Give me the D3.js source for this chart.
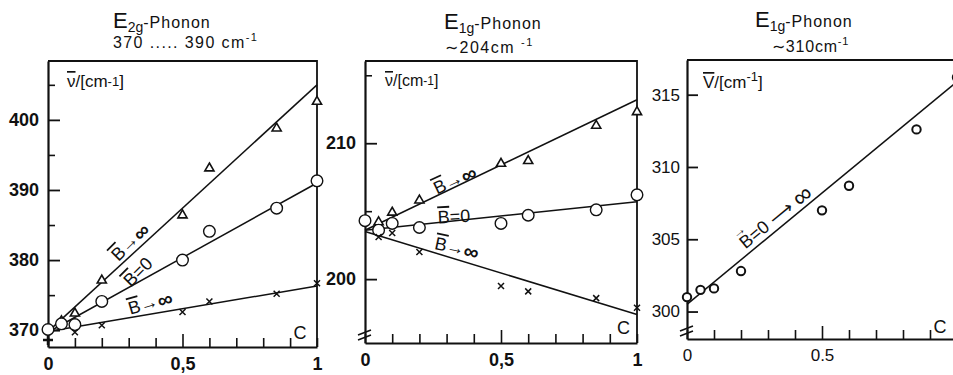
<!DOCTYPE html>
<html>
<head>
<meta charset="utf-8">
<script src="https://cdn.jsdelivr.net/npm/d3@7"></script>
<style>
  body { margin: 0; background: #fff; }
  svg { display: block; }
  text { font-family: "Liberation Sans", Arial, sans-serif; fill: #111; }
</style>
</head>
<body>
<svg id="chart" width="953" height="375"></svg>
<script>
// concentration axis (c), shared by the three panels
const cTicks = [0, 0.1, 0.2, 0.3, 0.4, 0.5, 0.6, 0.7, 0.8, 0.9, 1];
const cLabelValues = [0, 0.5, 1];
const cLabelsComma = ["0", "0,5", "1"];
const cLabelsDot = ["0", "0.5"];   // the "1" falls outside the picture
const fitC = [0, 1];

// E2g phonon, 370 ... 390 cm-1
const e2gMajor = [370, 380, 390, 400];
const e2gMinor = [375, 385, 395, 405];
const e2gTriC = [0.05, 0.1, 0.2, 0.5, 0.6, 0.85, 1];
const e2gTri = [371.3, 372.4, 377.1, 386.4, 393.1, 398.8, 402.6];
const e2gCircC = [0, 0.05, 0.1, 0.2, 0.5, 0.6, 0.85, 1];
const e2gCirc = [370.1, 370.9, 370.8, 374.1, 380.0, 384.1, 387.4, 391.3];
const e2gCrossC = [0.1, 0.2, 0.5, 0.6, 0.85, 1];
const e2gCross = [369.7, 370.7, 372.6, 374.1, 375.2, 376.7];
const e2gPlusC = [0];
const e2gPlus = [368.6];
const e2gFitTri = [369.8, 405.0];
const e2gFitCirc = [369.7, 391.0];
const e2gFitCross = [369.8, 376.3];

// E1g phonon, ~204 cm-1
const e1aMajor = [200, 210];
const e1aMinor = [205, 215];
const e1aTriC = [0.05, 0.1, 0.2, 0.5, 0.6, 0.85, 1];
const e1aTri = [204.2, 204.9, 205.8, 208.5, 208.7, 211.3, 212.3];
const e1aCircC = [0, 0.05, 0.1, 0.2, 0.5, 0.6, 0.85, 1];
const e1aCirc = [204.3, 203.6, 204.1, 203.8, 204.1, 204.7, 205.1, 206.2];
const e1aCrossC = [0.05, 0.1, 0.2, 0.5, 0.6, 0.85, 1];
const e1aCross = [203.1, 203.4, 202.0, 199.5, 199.1, 198.6, 197.9];
const e1aFitTri = [203.6, 213.2];
const e1aFitCirc = [203.6, 205.7];
const e1aFitCross = [203.5, 197.4];

// E1g phonon, ~310 cm-1
const e1bMajor = [300, 305, 310, 315];
const e1bCircC = [0, 0.05, 0.1, 0.2, 0.5, 0.6, 0.85, 1];
const e1bCirc = [301.0, 301.5, 301.6, 302.8, 307.0, 308.7, 312.6, 316.2];
const e1bFit = [300.5, 315.9];

const ink = "#111";
const svg = d3.select("#chart");

const zip = (cs, vs) => cs.map((c, i) => [c, vs[i]]);

function bLabel(g, x, y, l) {
  const t = g.append("text")
    .attr("transform", "translate(" + x(l.pos[0]) + "," + y(l.pos[1]) + ") rotate(" + l.pos[2] + ")")
    .attr("text-anchor", "middle")
    .attr("dominant-baseline", "central")
    .style("font-size", l.size + "px");
  if (l.vec) {
    // vector arrow drawn above the B
    t.append("tspan").attr("dy", -13).style("font-size", "14px").text("→");
    t.append("tspan").attr("dx", -13).attr("dy", 13).text("B");
  } else {
    t.append("tspan").style("text-decoration", "overline").text("B");
  }
  l.text.forEach(part => {
    t.append("tspan").style("font-size", part.s + "px").style("font-weight", part.w || "normal").text(part.t);
  });
}

function drawPanel(p) {
  const g = svg.append("g");
  const x = d3.scaleLinear().domain([0, 1]).range([p.left, p.right]);
  const y = d3.scaleLinear().domain(p.yDomain).range([p.bottom, p.top]);

  // frame (top + right)
  g.append("path")
    .attr("d", "M" + p.left + "," + p.top + "H" + p.right + "V" + p.bottom)
    .attr("fill", "none").attr("stroke", ink).attr("stroke-width", 1.8);

  // left axis, ticks pointing inwards
  const ya = g.append("g").attr("transform", "translate(" + p.left + ",0)")
    .call(d3.axisLeft(y).tickValues(p.major).tickSize(-p.majorLen).tickSizeOuter(0).tickPadding(p.labelPad));
  ya.select(".domain").attr("stroke", ink).attr("stroke-width", 2.2);
  ya.selectAll(".tick line").attr("stroke", ink).attr("stroke-width", 1.8);
  ya.selectAll(".tick text").attr("fill", ink)
    .style("font-family", "'Liberation Sans', Arial, sans-serif")
    .style("font-size", p.tickFont + "px").style("font-weight", p.tickWeight);
  if (p.minor) {
    const ym = g.append("g").attr("transform", "translate(" + p.left + ",0)")
      .call(d3.axisLeft(y).tickValues(p.minor).tickSize(-7).tickFormat(""));
    ym.select(".domain").remove();
    ym.selectAll(".tick line").attr("stroke", ink).attr("stroke-width", 1.6);
  }

  // bottom axis, ticks pointing upwards
  const xa = g.append("g").attr("transform", "translate(0," + p.bottom + ")")
    .call(d3.axisBottom(x).tickValues(cTicks).tickSize(-9).tickSizeOuter(0).tickPadding(10)
      .tickFormat(d => p.cLabels[cLabelValues.indexOf(d)] || ""));
  xa.select(".domain").attr("stroke", ink).attr("stroke-width", 2.2);
  xa.selectAll(".tick line").attr("stroke", ink).attr("stroke-width", 1.6)
    .attr("y2", d => d === 0.5 ? -13 : -9);
  xa.selectAll(".tick text").attr("fill", ink)
    .style("font-family", "'Liberation Sans', Arial, sans-serif")
    .style("font-size", p.tickFont + "px").style("font-weight", p.tickWeight);

  const line = d3.line().x(d => x(d[0])).y(d => y(d[1]));

  // fitted lines
  p.fits.forEach(f => {
    g.append("path").datum(zip(fitC, f))
      .attr("d", line).attr("fill", "none")
      .attr("stroke", ink).attr("stroke-width", 1.5);
  });

  // markers
  p.series.forEach(s => {
    const pts = zip(s.c, s.v);
    const sel = g.append("g").selectAll("path").data(pts).enter();
    if (s.kind === "circle") {
      sel.append("circle")
        .attr("cx", d => x(d[0])).attr("cy", d => y(d[1])).attr("r", s.r)
        .attr("fill", "#fff").attr("stroke", ink).attr("stroke-width", s.sw);
    } else if (s.kind === "tri") {
      sel.append("path")
        .attr("d", d3.symbol(d3.symbolTriangle, 36))
        .attr("transform", d => "translate(" + x(d[0]) + "," + y(d[1]) + ")")
        .attr("fill", "#fff").attr("stroke", ink).attr("stroke-width", 1.6);
    } else if (s.kind === "cross") {
      sel.append("path")
        .attr("d", "M-3,-3L3,3M-3,3L3,-3")
        .attr("transform", d => "translate(" + x(d[0]) + "," + y(d[1]) + ")")
        .attr("stroke", ink).attr("stroke-width", 1.5);
    } else {
      sel.append("path")
        .attr("d", "M-5,0H5M0,-5V5")
        .attr("transform", d => "translate(" + x(d[0]) + "," + y(d[1]) + ")")
        .attr("stroke", ink).attr("stroke-width", 2.5);
    }
  });

  // line labels
  p.labels.forEach(l => bLabel(g, x, y, l));

  // "C" axis name
  g.append("text")
    .attr("x", x(p.cPos[0])).attr("y", y(p.cPos[1]))
    .attr("text-anchor", "middle").attr("dominant-baseline", "central")
    .style("font-size", "18px").text("C");

  // y unit label
  const u = g.append("text").attr("x", p.left + p.unit.dx).attr("y", p.top + p.unit.dy)
    .style("font-size", p.unit.size + "px");
  u.append("tspan").style("text-decoration", "overline").text(p.unit.sym);
  u.append("tspan").text(p.unit.mid);
  u.append("tspan").attr("dy", p.unit.supDy).style("font-size", (p.unit.size - 4) + "px").text(p.unit.sup);
  u.append("tspan").attr("dy", -p.unit.supDy).text("]");

  // title
  const t1 = g.append("text").attr("x", p.title.x).attr("y", p.title.y1);
  t1.append("tspan").style("font-size", "22px").text("E");
  t1.append("tspan").attr("dy", 4).style("font-size", "14px").text(p.title.sub);
  t1.append("tspan").attr("dy", -4).style("font-size", "16px").style("letter-spacing", "1px").text("-Phonon");
  const t2 = g.append("text").attr("x", p.title.x2).attr("y", p.title.y2)
    .style("font-size", "16px").style("letter-spacing", p.title.ls + "px");
  t2.append("tspan").text(p.title.line2);
  t2.append("tspan").attr("dy", -7).style("font-size", "11px").text("-1");

  // axis break marks
  if (p.brk) {
    g.append("path")
      .attr("d", "M" + (p.left - 7) + "," + (p.bottom - 3) + "l13,-5M" + (p.left - 7) + "," + (p.bottom - 8) + "l13,-5")
      .attr("stroke", ink).attr("stroke-width", 1.6);
  }
}

const toInf = [{ t: "→", s: 18, w: "bold" }, { t: "∞", s: 21, w: "bold" }];
const isZero = [{ t: "=0", s: 18 }];

drawPanel({
  left: 48, right: 317, top: 61, bottom: 347,
  yDomain: [367.6, 408.4], major: e2gMajor, minor: e2gMinor, majorLen: 12, labelPad: 9,
  tickFont: 18, tickWeight: "bold", cLabels: cLabelsComma,
  fits: [e2gFitTri, e2gFitCirc, e2gFitCross],
  series: [
    { kind: "tri", c: e2gTriC, v: e2gTri },
    { kind: "circle", c: e2gCircC, v: e2gCirc, r: 5.8, sw: 1.4 },
    { kind: "cross", c: e2gCrossC, v: e2gCross },
    { kind: "plus", c: e2gPlusC, v: e2gPlus }
  ],
  labels: [
    { pos: [0.305, 382.6, -45], text: toInf, size: 18 },
    { pos: [0.335, 378.3, -45], text: isZero, size: 18 },
    { pos: [0.38, 373.9, -16], text: toInf, size: 18 }
  ],
  cPos: [0.937, 369.6],
  unit: { dx: 19, dy: 26, size: 17, sym: "ν", mid: "/[cm", sup: "-1", supDy: -1 },
  title: { x: 113, y1: 28, x2: 113, y2: 48, sub: "2g", line2: "370 ..... 390 cm", ls: 1.4 }
});

drawPanel({
  left: 365, right: 637, top: 61, bottom: 343,
  yDomain: [195.3, 216.05], major: e1aMajor, minor: e1aMinor, majorLen: 12, labelPad: 9,
  tickFont: 18, tickWeight: "bold", cLabels: cLabelsComma,
  fits: [e1aFitTri, e1aFitCirc, e1aFitCross],
  series: [
    { kind: "tri", c: e1aTriC, v: e1aTri },
    { kind: "circle", c: e1aCircC, v: e1aCirc, r: 5.8, sw: 1.4 },
    { kind: "cross", c: e1aCrossC, v: e1aCross }
  ],
  labels: [
    { pos: [0.33, 207.3, -25], text: toInf, size: 18 },
    { pos: [0.327, 204.6, -3], text: isZero, size: 18 },
    { pos: [0.338, 202.3, 12], text: toInf, size: 18 }
  ],
  cPos: [0.95, 196.4],
  unit: { dx: 20, dy: 25, size: 16, sym: "ν", mid: "/[cm", sup: "-1", supDy: -1 },
  title: { x: 444, y1: 29, x2: 445, y2: 53, sub: "1g", line2: "∼204cm ", ls: 1.5 },
  brk: true
});

drawPanel({
  left: 687, right: 957, top: 60, bottom: 339,
  yDomain: [298.1, 317.4], major: e1bMajor, minor: null, majorLen: 11, labelPad: 7,
  tickFont: 17, tickWeight: "normal", cLabels: cLabelsDot,
  fits: [e1bFit],
  series: [
    { kind: "circle", c: e1bCircC, v: e1bCirc, r: 4.2, sw: 2 }
  ],
  labels: [
    { pos: [0.326, 306.5, -39.5], text: [{ t: "=0 ⟶ ", s: 18 }, { t: "∞", s: 26 }], size: 18, vec: true }
  ],
  cPos: [0.937, 298.9],
  unit: { dx: 16, dy: 28, size: 17, sym: "V", mid: "/[cm", sup: "-1", supDy: -7 },
  title: { x: 755, y1: 27, x2: 772, y2: 52, sub: "1g", line2: "∼310cm", ls: 0.8 },
  brk: true
});
</script>
</body>
</html>
